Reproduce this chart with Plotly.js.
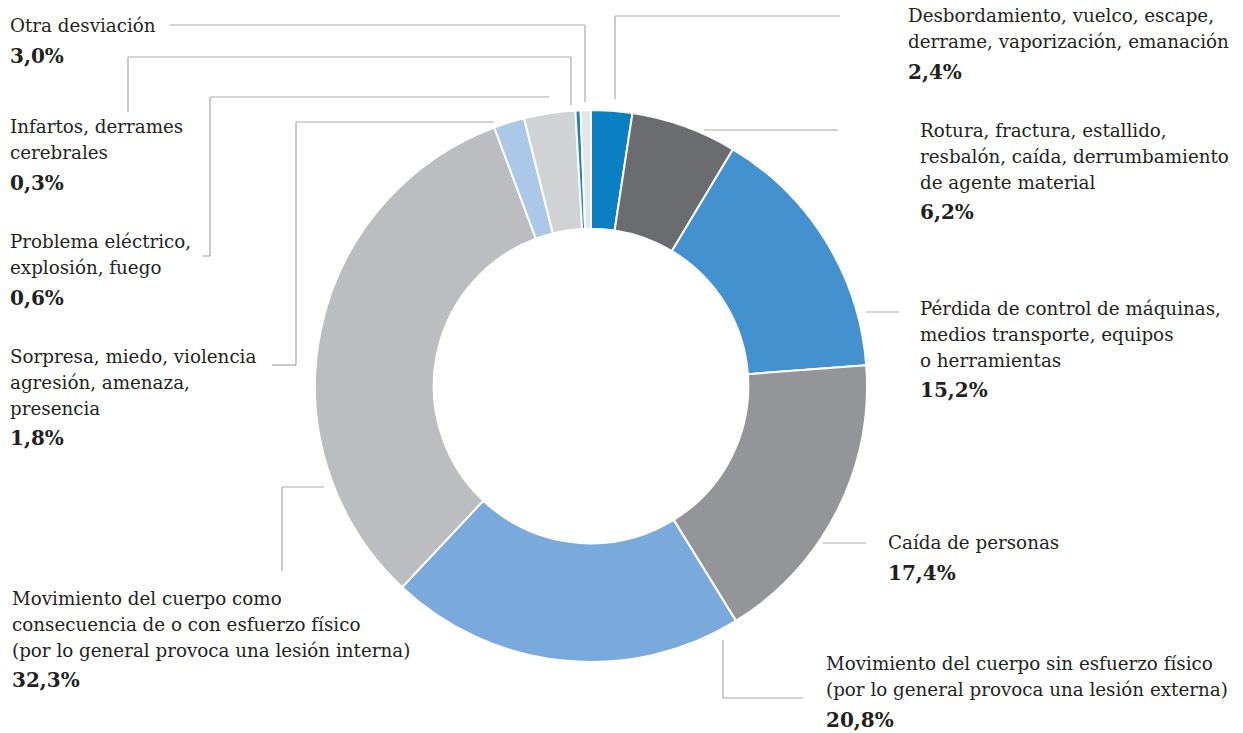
<!DOCTYPE html>
<html>
<head>
<meta charset="utf-8">
<script src="https://cdn.plot.ly/plotly-3.0.1.min.js"></script>
<style>html,body{margin:0;padding:0;background:#fff;}#chart{width:1243px;height:733px;}</style>
</head>
<body>
<div id="chart"></div>
<script>
// Data (slice order, clockwise from 12 o'clock)
const categories = [
  "Desbordamiento, vuelco, escape,<br>derrame, vaporización, emanación",
  "Rotura, fractura, estallido,<br>resbalón, caída, derrumbamiento<br>de agente material",
  "Pérdida de control de máquinas,<br>medios transporte, equipos<br>o herramientas",
  "Caída de personas",
  "Movimiento del cuerpo sin esfuerzo físico<br>(por lo general provoca una lesión externa)",
  "Movimiento del cuerpo como<br>consecuencia de o con esfuerzo físico<br>(por lo general provoca una lesión interna)",
  "Sorpresa, miedo, violencia<br>agresión, amenaza,<br>presencia",
  "Otra desviación",
  "Infartos, derrames<br>cerebrales",
  "Problema eléctrico,<br>explosión, fuego"
];
const values = [2.4, 6.2, 15.2, 17.4, 20.8, 32.3, 1.8, 3.0, 0.3, 0.6];
const valueLabels = ["2,4%", "6,2%", "15,2%", "17,4%", "20,8%", "32,3%", "1,8%", "3,0%", "0,3%", "0,6%"];
const colors = ["#0a7fc4", "#6b6c70", "#4392cf", "#949599", "#7aaadb", "#bcbdc1", "#abc8e8", "#d1d2d4", "#1f82c6", "#e4e5e6"];

const W = 1243, H = 733;
const px = x => x / W;
const py = y => 1 - y / H;

// label block positions (left x, first-line baseline y) in pixels
const labelPos = [
  [906, 22], [918, 137], [918, 315], [886, 549], [824, 670],
  [10, 605], [8, 363], [8, 32], [8, 133], [8, 248]
];
// leader polylines in pixels
const leaders = [
  [[840, 16], [615, 16], [615, 99]],
  [[838, 130], [704, 130]],
  [[899, 312], [866, 312]],
  [[866, 543], [823, 543]],
  [[803, 698], [723, 698], [723, 640]],
  [[324, 487], [282, 487], [282, 571]],
  [[272, 365], [296, 365], [296, 122], [494, 122]],
  [[170, 25], [585, 25], [585, 102]],
  [[128, 112], [128, 57], [571, 57], [571, 105]],
  [[203, 256], [210, 256], [210, 97], [549, 97]]
];

const FAM = 'DejaVu Serif';
const FS = 18.3, FSB = 20;
const GAP = 25.7, PGAP = 31;
const annotations = [];
categories.forEach((c, i) => {
  const lines = c.split('<br>');
  const x0 = px(labelPos[i][0]);
  let base = labelPos[i][1];
  lines.forEach((ln, k) => {
    if (k > 0) base += GAP;
    annotations.push({xref: 'paper', yref: 'paper', x: x0, y: py(base - 6.3),
      xanchor: 'left', yanchor: 'middle', align: 'left', showarrow: false,
      text: ln, font: {family: FAM, size: FS, color: '#231f20'}});
  });
  base += PGAP;
  annotations.push({xref: 'paper', yref: 'paper', x: x0, y: py(base - 7),
    xanchor: 'left', yanchor: 'middle', align: 'left', showarrow: false,
    text: '<b>' + valueLabels[i] + '</b>', font: {family: FAM, size: FSB, color: '#231f20'}});
});

const shapes = [];
leaders.forEach(pts => {
  for (let k = 0; k < pts.length - 1; k++) {
    shapes.push({type: 'line', xref: 'paper', yref: 'paper',
      x0: px(pts[k][0]), y0: py(pts[k][1]), x1: px(pts[k + 1][0]), y1: py(pts[k + 1][1]),
      line: {color: '#a7a9ac', width: 1.2}});
  }
});

const cx = 591, cy = 386, R = 276;
const trace = {
  type: 'pie',
  labels: categories,
  values: values,
  sort: false,
  direction: 'clockwise',
  rotation: 0,
  hole: 0.57,
  textinfo: 'none',
  hoverinfo: 'label+percent',
  marker: {colors: colors, line: {color: '#ffffff', width: 2}},
  domain: {x: [px(cx - R), px(cx + R)], y: [py(cy + R), py(cy - R)]},
  showlegend: false
};

Plotly.newPlot('chart', [trace], {
  width: W, height: H,
  margin: {l: 0, r: 0, t: 0, b: 0},
  paper_bgcolor: '#ffffff',
  font: {family: FAM},
  showlegend: false,
  annotations: annotations,
  shapes: shapes
}, {displayModeBar: false, staticPlot: true});
</script>
</body>
</html>
